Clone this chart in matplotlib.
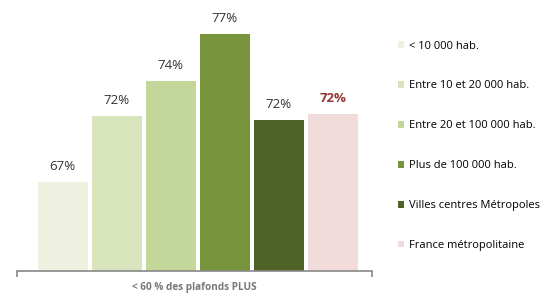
import matplotlib.pyplot as plt
from matplotlib.patches import Patch

# data
series = ['< 10 000 hab.', 'Entre 10 et 20 000 hab.', 'Entre 20 et 100 000 hab.',
          'Plus de 100 000 hab.', 'Villes centres Métropoles', 'France métropolitaine']
values = [67.4, 71.8, 74.1, 77.2, 71.5, 71.9]
labels = ['67%', '72%', '74%', '77%', '72%', '72%']
category = '< 60 % des plafonds PLUS'
colors = ['#EEF1E0', '#D8E4BC', '#C4D79B', '#77933C', '#4F6228', '#F2DCDB']

plt.rcParams['font.family'] = ['Open Sans', 'DejaVu Sans']

fig = plt.figure(figsize=(5.57, 2.94), dpi=100)
ax = fig.add_axes([0.0305, 0.078, 0.6375, 0.888])

pitch = 0.152
width = 0.141
offset = 0.009
n = len(values)
for i, (v, c, lab) in enumerate(zip(values, colors, labels)):
    x = (i - (n - 1) / 2) * pitch + offset
    ax.bar(x, v, width=width, color=c, bottom=0)
    if i == n - 1:
        ax.text(x, v + 0.6, lab, ha='center', va='bottom', fontsize=9.5,
                color='#953735', fontweight='bold')
    else:
        ax.text(x, v + 0.6, lab, ha='center', va='bottom', fontsize=9.5, color='#333333')

ax.set_xlim(-0.5, 0.5)
ax.set_ylim(61.5, 78.8)
for s in ['top', 'right', 'left']:
    ax.spines[s].set_visible(False)
ax.spines['bottom'].set_color('#888888')
ax.spines['bottom'].set_linewidth(1.2)
ax.set_yticks([])
ax.set_xticks([-0.5, 0.5])
ax.set_xticklabels(['', ''])
ax.tick_params(axis='x', length=4, color='#888888', width=1.2)
ax.text(0.5, -0.064, category, transform=ax.transAxes, ha='center', va='center',
        fontsize=7.2, fontweight='bold', color='#777777')

handles = [Patch(facecolor=c, edgecolor='none') for c in colors]
fig.legend(handles, series, loc='upper left', bbox_to_anchor=(0.706, 0.877),
           frameon=False, fontsize=8, handlelength=0.55, handleheight=0.55,
           handletextpad=0.45, labelspacing=2.6, borderaxespad=0)

fig.savefig('out.png', dpi=100)
